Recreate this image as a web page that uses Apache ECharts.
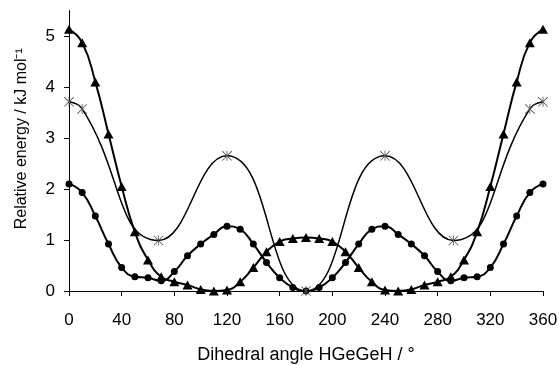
<!DOCTYPE html>
<html>
<head>
<meta charset="utf-8">
<script src="https://cdn.jsdelivr.net/npm/echarts@6/dist/echarts.min.js"></script>
<style>
  html, body { margin: 0; padding: 0; background: #fff; }
  #chart { width: 559px; height: 365px; }
</style>
</head>
<body>
<div id="chart"></div>
<script>
// dihedral angles, every 10 degrees
const angles = [0, 10, 20, 30, 40, 50, 60, 70, 80, 90, 100, 110, 120, 130, 140, 150, 160, 170, 180,
    190, 200, 210, 220, 230, 240, 250, 260, 270, 280, 290, 300, 310, 320, 330, 340, 350, 360];
const triangleVals = [5.13, 4.87, 4.1, 3.08, 2.05, 1.16, 0.61, 0.28, 0.18, 0.12, 0.03, 0, 0.02, 0.18, 0.46, 0.77, 0.97, 1.03, 1.05,
    1.03, 0.97, 0.77, 0.46, 0.18, 0.02, 0, 0.03, 0.12, 0.18, 0.28, 0.61, 1.16, 2.05, 3.08, 4.1, 4.87, 5.13];
const circleVals = [2.1, 1.93, 1.47, 0.92, 0.46, 0.28, 0.26, 0.2, 0.38, 0.69, 0.92, 1.11, 1.27, 1.21, 0.92, 0.56, 0.26, 0.07, 0,
    0.07, 0.26, 0.56, 0.92, 1.21, 1.27, 1.11, 0.92, 0.69, 0.38, 0.2, 0.26, 0.28, 0.46, 0.92, 1.47, 1.93, 2.1];
// stationary points (asterisks)
const starAngles = [0, 10, 68, 120, 180, 240, 292, 350, 360];
const starVals = [3.71, 3.57, 0.99, 2.65, 0, 2.65, 0.99, 3.57, 3.71];
const yTicks = [0, 1, 2, 3, 4, 5];

function pairs(xs, ys) {
    return xs.map(function (x, i) { return [x, ys[i]]; });
}

// asterisk marker built from three thin bars
const starPath = 'path://M4.6 0L5.4 0L5.4 10L4.6 10Z' +
    'M0 0.6L0.6 0L10 9.4L9.4 10Z' +
    'M9.4 0L10 0.6L0.6 10L0 9.4Z';

const chart = echarts.init(document.getElementById('chart'));
const option = {
    animation: false,
    grid: { left: 69, right: 16, top: 10.5, bottom: 74, outerBoundsMode: 'none' },
    xAxis: {
        type: 'value',
        min: 0,
        max: 360,
        interval: 40,
        name: 'Dihedral angle HGeGeH / \u00b0',
        nameLocation: 'middle',
        nameGap: 55,
        nameTextStyle: { fontFamily: 'Liberation Sans', fontSize: 18, color: '#000' },
        axisLine: { lineStyle: { color: '#000', width: 1 } },
        axisTick: { show: true, length: 5, lineStyle: { color: '#000' } },
        axisLabel: { margin: 21, fontFamily: 'Liberation Sans', fontSize: 17, color: '#000' },
        splitLine: { show: false }
    },
    yAxis: {
        type: 'value',
        min: 0,
        max: 5.5,
        interval: 1,
        name: 'Relative energy / kJ mol\u207b\u00b9',
        nameLocation: 'middle',
        nameGap: 39,
        nameRotate: 90,
        nameTextStyle: { fontFamily: 'Liberation Sans', fontSize: 16, color: '#000', padding: [0, 0, 0, 24] },
        axisLine: { show: true, lineStyle: { color: '#000', width: 1 } },
        axisTick: { show: true, length: 5, customValues: yTicks, lineStyle: { color: '#000' } },
        axisLabel: { margin: 14, customValues: yTicks, fontFamily: 'Liberation Sans', fontSize: 17, color: '#000' },
        splitLine: { show: false }
    },
    series: [
        {
            type: 'line',
            data: pairs(angles, triangleVals),
            smooth: 0.5,
            symbol: 'triangle',
            symbolSize: [10, 9],
            itemStyle: { color: '#000' },
            lineStyle: { color: '#000', width: 2 }
        },
        {
            type: 'line',
            data: pairs(angles, circleVals),
            smooth: 0.5,
            symbol: 'circle',
            symbolSize: 7,
            itemStyle: { color: '#000' },
            lineStyle: { color: '#000', width: 2 }
        },
        {
            type: 'line',
            data: pairs(starAngles, starVals),
            smooth: 0.5,
            symbol: starPath,
            symbolSize: 10,
            itemStyle: { color: '#555' },
            lineStyle: { color: '#000', width: 1.5 }
        }
    ]
};
chart.setOption(option);
</script>
</body>
</html>
